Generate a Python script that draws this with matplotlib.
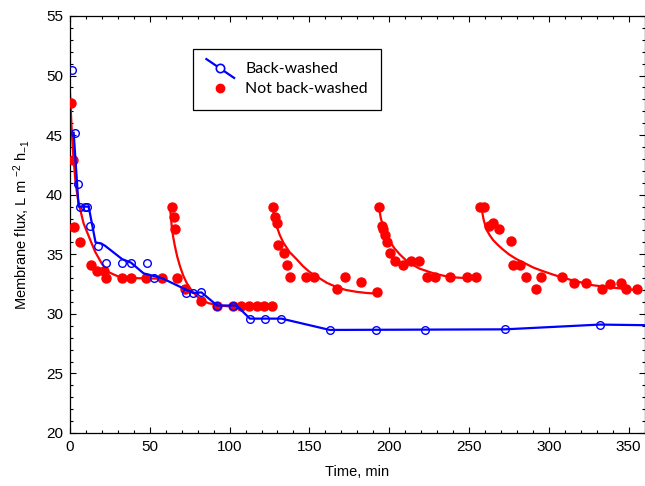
import matplotlib
matplotlib.use("Agg")
import matplotlib.pyplot as plt
from matplotlib.lines import Line2D
from matplotlib.legend_handler import HandlerBase
from matplotlib.ticker import MultipleLocator

plt.rcParams['font.family'] = ['Liberation Sans', 'DejaVu Sans']
plt.rcParams['mathtext.fontset'] = 'custom'
plt.rcParams['mathtext.rm'] = 'Liberation Sans'
plt.rcParams['mathtext.it'] = 'Liberation Sans'

# Back-washed: measured points (open circles)
bw_t = [1.0, 2.9, 4.8, 6.5, 9.2, 10.6, 12.7, 17.5, 22.5, 32.6, 38.2, 48.2, 52.8,
        72.6, 77.2, 82.4, 92.2, 101.9, 112.7, 122.5, 132.5, 162.8, 192.0, 222.3,
        272.4, 331.9]
bw_flux = [50.5, 45.2, 40.9, 39.0, 39.0, 39.0, 37.4, 35.7, 34.3, 34.3, 34.3, 34.3, 33.0,
           31.75, 31.75, 31.8, 30.7, 30.7, 29.6, 29.6, 29.6, 28.65, 28.65, 28.65,
           28.7, 29.1]

# Back-washed: connecting line
bw_line_t = [2.3, 5.4, 11.7, 16.0, 19.6, 22.1, 32.6, 38.2, 46.1, 57.6, 70.1, 77.2,
             82.4, 92.2, 104.4, 112.7, 132.5, 162.8, 272.4, 331.9, 360]
bw_line_flux = [45.2, 39.0, 39.0, 36.0, 35.9, 35.7, 34.6, 34.3, 33.4, 33.0, 32.2, 31.75,
                31.8, 30.7, 30.7, 29.6, 29.6, 28.65, 28.7, 29.1, 29.05]

# Not back-washed: measured points
nbw_t = [0.5, 2.0, 2.5, 6.5, 13.1, 16.9, 21.1, 22.7, 32.6, 38.2, 47.8, 57.6,
         63.7, 65.1, 65.7, 67.0, 72.0, 82.3, 92.2, 101.9, 107.0, 112.0, 116.9, 121.7, 126.7,
         127.3, 128.4, 129.8, 130.5, 134.0, 135.7, 137.8, 147.8, 152.8, 167.4, 172.6, 182.2, 192.4,
         193.7, 195.2, 196.2, 197.7, 198.7, 200.8, 203.5, 208.7, 213.5, 218.5, 224.0, 228.6,
         238.4, 249.0, 254.6,
         257.1, 259.2, 262.6, 265.1, 268.6, 276.1, 277.6, 281.8, 285.5, 291.8, 295.4, 308.5,
         315.8, 323.5, 333.5, 338.1, 345.4, 348.5, 355.2]
nbw_flux = [47.7, 42.9, 37.3, 36.0, 34.1, 33.6, 33.6, 33.0, 33.0, 33.0, 33.0, 33.0,
            39.0, 38.1, 37.1, 33.0, 32.1, 31.1, 30.7, 30.7, 30.7, 30.7, 30.7, 30.7, 30.7,
            39.0, 38.1, 37.6, 35.8, 35.1, 34.1, 33.1, 33.1, 33.1, 32.1, 33.1, 32.7, 31.8,
            39.0, 37.4, 37.1, 36.6, 36.0, 35.1, 34.4, 34.1, 34.4, 34.4, 33.1, 33.1,
            33.1, 33.1, 33.1,
            39.0, 39.0, 37.4, 37.6, 37.1, 36.1, 34.1, 34.1, 33.1, 32.1, 33.1, 33.1,
            32.6, 32.6, 32.1, 32.5, 32.6, 32.1, 32.1]

# Not back-washed: fitted curves per filtration cycle
fit1_t = [0, 1, 2, 3.5, 5, 6.5, 8.5, 10.6, 13, 15.8, 20, 24.2, 30, 40, 57]
fit1_flux = [48.5, 45.6, 43.4, 41.0, 39.6, 38.7, 37.6, 36.9, 36.1, 35.2, 34.2, 33.5, 33.15, 33.0, 32.95]
fit2_t = [62.6, 63.2, 63.7, 64.6, 65.7, 67.2, 68.9, 71, 73.1, 76, 79.3, 83, 86.6, 93.9, 102.3, 114, 126.5]
fit2_flux = [39.0, 38.2, 37.4, 36.5, 35.7, 34.8, 34.0, 33.2, 32.6, 32.0, 31.5, 31.15, 30.9, 30.7, 30.6, 30.55, 30.5]
fit3_t = [127, 128, 129.4, 131.5, 133.6, 137.5, 141.9, 146, 150.3, 155, 161, 167, 173, 179.5, 186, 192]
fit3_flux = [39.0, 38.1, 37.4, 36.6, 36.0, 35.2, 34.6, 34.0, 33.5, 33.1, 32.6, 32.25, 32.0, 31.85, 31.75, 31.7]
fit4_t = [193.7, 194.8, 196.2, 198.2, 200.4, 203.3, 206.6, 210.5, 215, 219, 223.4, 229, 235.9, 242, 248.4, 256.7]
fit4_flux = [38.9, 38.0, 37.4, 36.7, 36.1, 35.5, 35.0, 34.5, 34.1, 33.8, 33.6, 33.35, 33.15, 33.05, 33.0, 32.9]
fit5_t = [257.8, 258.5, 259.2, 260.9, 263, 265.1, 268, 271.3, 275, 279.7, 285, 290.1, 296,
          302.6, 308.5, 315.2, 321.5, 327.7, 334, 340.2, 347, 354.8]
fit5_flux = [39.0, 38.4, 37.9, 37.1, 36.6, 36.2, 35.8, 35.4, 35.0, 34.6, 34.25, 33.9, 33.6,
             33.3, 33.05, 32.8, 32.6, 32.4, 32.3, 32.2, 32.1, 32.0]

fits = [(fit1_t, fit1_flux), (fit2_t, fit2_flux), (fit3_t, fit3_flux),
        (fit4_t, fit4_flux), (fit5_t, fit5_flux)]

RED = '#ff0000'
BLUE = '#0000ff'


class SlantLineHandler(HandlerBase):
    # legend key: slanted line with an open circle in the middle
    def create_artists(self, legend, orig_handle, xdescent, ydescent,
                       width, height, fontsize, trans):
        x0, x1 = -xdescent, width - xdescent
        y0, y1 = height * 1.3 - ydescent, -height * 0.4 - ydescent
        ln = Line2D([x0, x1], [y0, y1], color=BLUE, lw=1.6, transform=trans)
        mk = Line2D([(x0 + x1) / 2], [(y0 + y1) / 2], marker='o', ms=6,
                    mfc='white', mec=BLUE, mew=1.2, ls='none', transform=trans)
        return [ln, mk]


fig = plt.figure(figsize=(6.45, 4.86), dpi=100)
ax = fig.add_axes([70 / 645, 1 - 433 / 486, 574.5 / 645, 417 / 486])

for ft, ff in fits:
    ax.plot(ft, ff, color=RED, lw=1.6, zorder=2)
ax.plot(nbw_t, nbw_flux, 'o', color=RED, ms=6.5, mec=RED, zorder=3)
ax.plot(bw_line_t, bw_line_flux, color=BLUE, lw=1.6, zorder=4)
ax.plot(bw_t, bw_flux, 'o', ms=5.5, mfc='none', mec=BLUE, mew=1.0, zorder=5)

ax.set_xlim(0, 360)
ax.set_ylim(20, 55)
ax.xaxis.set_major_locator(MultipleLocator(50))
ax.xaxis.set_minor_locator(MultipleLocator(10))
ax.yaxis.set_major_locator(MultipleLocator(5))
ax.yaxis.set_minor_locator(MultipleLocator(1))
ax.tick_params(which='both', direction='in', top=True, right=True,
               labelsize=11, width=0.8, colors='black')
ax.tick_params(which='major', length=4, pad=5)
ax.tick_params(which='minor', length=2)
for sp in ax.spines.values():
    sp.set_linewidth(0.9)

ax.set_xlabel('Time, min', fontsize=10.5, labelpad=8)
ax.set_ylabel(r'Membrane flux, L m $^{-2}$ h$_{-1}$', fontsize=10.5, labelpad=10)

bw_handle = Line2D([], [], color=BLUE)
nbw_handle = Line2D([], [], marker='o', ls='none', color=RED, ms=6)
leg = ax.legend([bw_handle, nbw_handle], ['Back-washed', 'Not back-washed'],
                handler_map={bw_handle: SlantLineHandler()},
                loc='upper left', bbox_to_anchor=(0.214, 0.921), borderaxespad=0,
                frameon=True, fancybox=False, edgecolor='black', framealpha=1,
                prop={'family': 'Lato', 'size': 11.4}, handlelength=1.75,
                handletextpad=0.7, borderpad=0.85, labelspacing=0.35)
leg.get_frame().set_linewidth(0.9)

fig.savefig('out.png', dpi=100)
